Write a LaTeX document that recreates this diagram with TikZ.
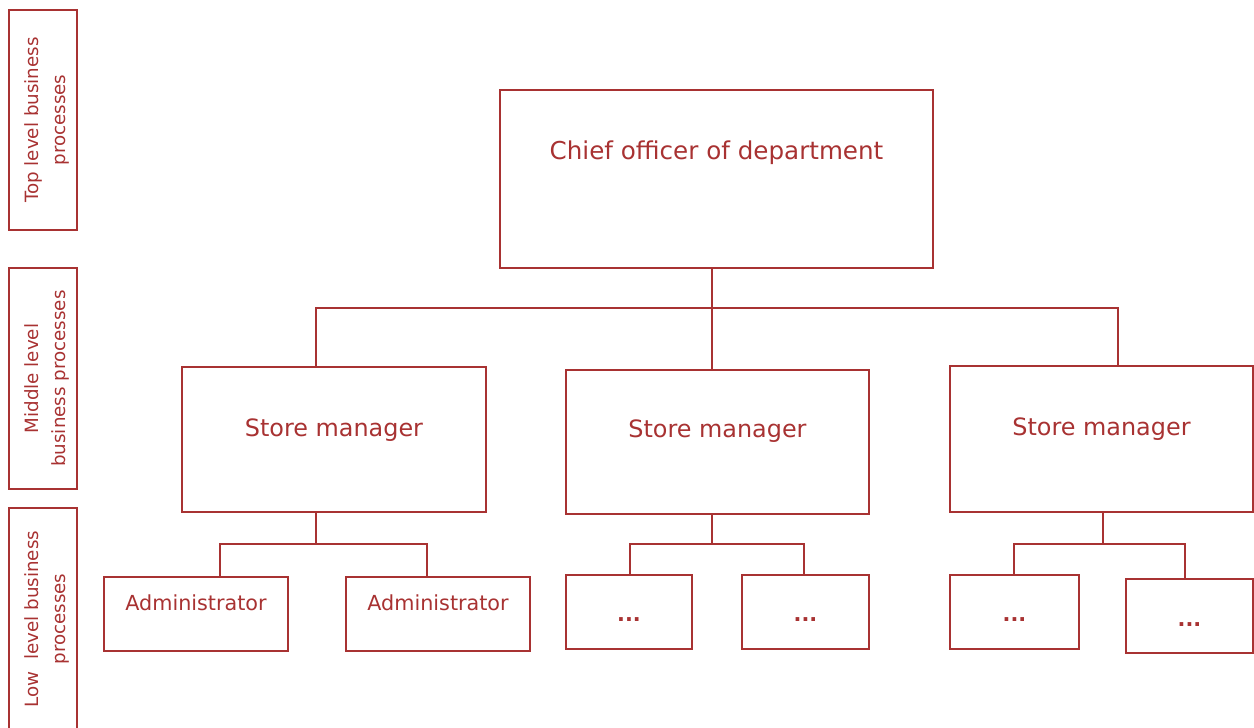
\documentclass[tikz,border=0pt]{standalone}
\usepackage{fontspec}
\setmainfont{DejaVu Sans}
\usetikzlibrary{positioning}
\definecolor{darkred}{RGB}{168,50,50}

\begin{document}
\begin{tikzpicture}[x=0.02cm, y=-0.02cm,
  box/.style={draw=darkred, line width=1pt, rectangle, inner sep=0pt},
  link/.style={draw=darkred, line width=1pt},
  chieftxt/.style={text=darkred, font=\fontsize{14}{17}\selectfont},
  smtxt/.style={text=darkred, font=\fontsize{13.6}{16}\selectfont},
  admtxt/.style={text=darkred, font=\fontsize{11.8}{14}\selectfont},
  sidetxt/.style={text=darkred, align=center, font=\fontsize{10.4}{15.4}\selectfont}]
\useasboundingbox (0,0) rectangle (1254,727);
\clip (0,0) rectangle (1254,727);

% level boxes on the left
\node[box, minimum width=1.36cm, minimum height=4.4cm,
  label={[sidetxt, xshift=0.07cm, rotate=90]center:Top level business\\processes}] (toplvl) at (43,120) {};
\node[box, minimum width=1.36cm, minimum height=4.42cm,
  label={[sidetxt, xshift=0.07cm, rotate=90]center:Middle level\\business processes}] (midlvl) at (43,378.5) {};
\node[box, minimum width=1.36cm, minimum height=4.44cm,
  label={[sidetxt, xshift=0.07cm, rotate=90]center:Low~ level business\\processes}] (lowlvl) at (43,619) {};

% chief and store managers
\node[box, minimum width=8.66cm, minimum height=3.56cm,
  label={[chieftxt, yshift=0.52cm]center:Chief officer of department}] (chief) at (716.5,179) {};
\node[box, minimum width=6.08cm, minimum height=2.9cm,
  label={[smtxt, yshift=0.19cm]center:Store manager}] (sm1) at (334,439.5) {};
\node[box, minimum width=6.06cm, minimum height=2.88cm,
  label={[smtxt, yshift=0.22cm]center:Store manager}] (sm2) at (717.5,442) {};
\node[box, minimum width=6.06cm, minimum height=2.92cm,
  label={[smtxt, yshift=0.2cm]center:Store manager}] (sm3) at (1101.5,439) {};

% lower level
\node[box, minimum width=3.68cm, minimum height=1.48cm,
  label={[admtxt, yshift=0.22cm]center:Administrator}] (adm1) at (196,614) {};
\node[box, minimum width=3.68cm, minimum height=1.48cm,
  label={[admtxt, yshift=0.22cm]center:Administrator}] (adm2) at (438,614) {};
\node[box, minimum width=2.52cm, minimum height=1.48cm,
  label={[admtxt, yshift=-0.16cm]center:\textbf{...}}] (dots1) at (629,612) {};
\node[box, minimum width=2.54cm, minimum height=1.48cm,
  label={[admtxt, yshift=-0.16cm]center:\textbf{...}}] (dots2) at (805.5,612) {};
\node[box, minimum width=2.58cm, minimum height=1.48cm,
  label={[admtxt, yshift=-0.16cm]center:\textbf{...}}] (dots3) at (1014.5,612) {};
\node[box, minimum width=2.54cm, minimum height=1.48cm,
  label={[admtxt, yshift=-0.18cm]center:\textbf{...}}] (dots4) at (1189.5,616) {};

% connectors
\coordinate (tm) at (712,308);
\coordinate (tl) at (316,308);
\coordinate (tr) at (1118,308);
\draw[link] (chief.south -| tm) -- (sm2.north -| tm);
\draw[link] (sm1.north -| tl) -- (tl) -- (tr) -- (sm3.north -| tr);

\coordinate (j1) at (316,544);
\coordinate (l1) at (220,544);
\coordinate (r1) at (427,544);
\draw[link] (sm1.south -| j1) -- (j1);
\draw[link] (adm1.north -| l1) -- (l1) -- (r1) -- (adm2.north -| r1);

\coordinate (j2) at (712,544);
\coordinate (l2) at (630,544);
\coordinate (r2) at (804,544);
\draw[link] (sm2.south -| j2) -- (j2);
\draw[link] (dots1.north -| l2) -- (l2) -- (r2) -- (dots2.north -| r2);

\coordinate (j3) at (1103,544);
\coordinate (l3) at (1014,544);
\coordinate (r3) at (1185,544);
\draw[link] (sm3.south -| j3) -- (j3);
\draw[link] (dots3.north -| l3) -- (l3) -- (r3) -- (dots4.north -| r3);
\end{tikzpicture}
\end{document}
